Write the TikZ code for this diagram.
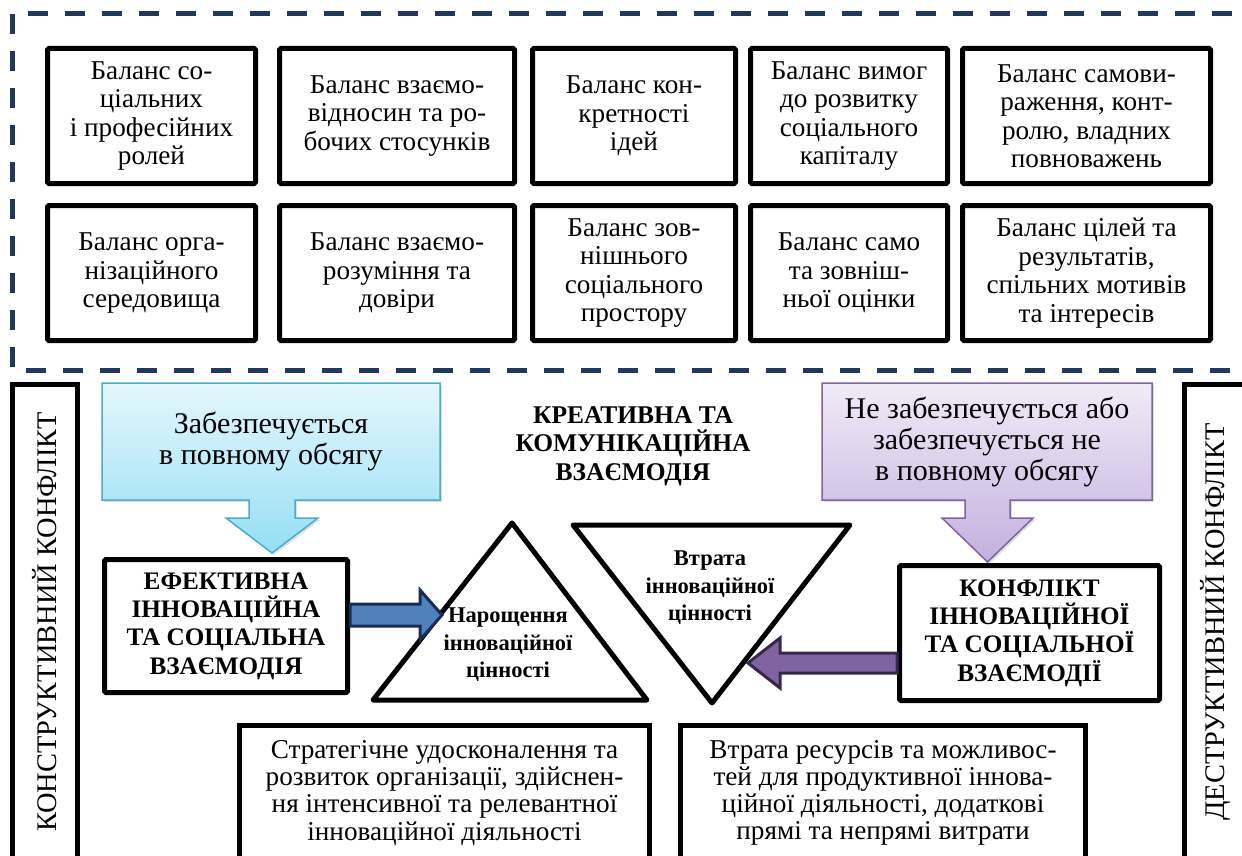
\documentclass[tikz,border=0pt]{standalone}
\usepackage{fontspec}
\setmainfont{Liberation Serif}
\usetikzlibrary{arrows.meta,calc,positioning,shadows,backgrounds}
\definecolor{FrameNavy}{RGB}{32,56,90}
\definecolor{SkyTop}{RGB}{228,247,253}
\definecolor{SkyBottom}{RGB}{150,222,243}
\definecolor{SkyEdge}{RGB}{75,172,198}
\definecolor{LilacTop}{RGB}{241,235,247}
\definecolor{LilacBottom}{RGB}{195,176,222}
\definecolor{LilacEdge}{RGB}{128,100,162}
\definecolor{SteelFill}{RGB}{79,129,189}
\definecolor{SteelEdge}{RGB}{23,45,84}
\definecolor{PlumFill}{RGB}{128,100,162}
\definecolor{PlumEdge}{RGB}{54,40,74}

\begin{document}
\begin{tikzpicture}[x=1pt,y=-1pt,
  balbox/.style={draw,line width=5pt,rounded corners=1.5pt,align=center,inner sep=0pt,minimum height=135pt,font=\fontsize{27.2}{28.5}\selectfont},
  resbox/.style={draw,line width=5pt,rounded corners=1.5pt,align=center,inner sep=0pt,font=\fontsize{25.2}{28.3}\selectfont\bfseries},
  outbox/.style={draw,line width=5pt,align=center,inner sep=0pt,minimum height=135pt,font=\fontsize{27.2}{27.2}\selectfont},
  sidebox/.style={draw,line width=5pt,rotate=90,inner sep=0pt,minimum width=475pt,font=\fontsize{28.4}{30}\selectfont},
  calltext/.style={align=center,inner sep=0pt,outer sep=0pt,font=\fontsize{30}{31}\selectfont},
  tritext/.style={align=center,inner sep=0pt,font=\fontsize{22.5}{27.5}\selectfont\bfseries},
  tri/.style={draw,line width=5pt,line join=round},
  skycall/.style={draw=SkyEdge,line width=1.5pt,top color=SkyTop,bottom color=SkyBottom,drop shadow={opacity=0.25,shadow xshift=2pt,shadow yshift=-2pt}},
  lilaccall/.style={draw=LilacEdge,line width=1.5pt,top color=LilacTop,bottom color=LilacBottom,drop shadow={opacity=0.25,shadow xshift=2pt,shadow yshift=-2pt}},
  steelfat/.style={fill=SteelFill,draw=SteelEdge,line width=3pt},
  plumfat/.style={fill=PlumFill,draw=PlumEdge,line width=3pt}]
\useasboundingbox (0,0) rectangle (1242,856);
\clip (0,0) rectangle (1242,856);

% balances
\draw[FrameNavy,line width=5pt,dash pattern=on 20pt off 17pt] (12,14) rectangle (1265,370);
\node[balbox,minimum width=208pt] (b1) at (151.5,116) {Баланс со-\\ціальних\\і професійних\\ролей};
\node[balbox,minimum width=235pt,right=19pt of b1] (b2) {Баланс взаємо-\\відносин та ро-\\бочих стосунків};
\node[balbox,minimum width=203pt,right=13pt of b2] (b3) {Баланс кон-\\кретності\\ідей};
\node[balbox,minimum width=197pt,right=10pt of b3] (b4) {Баланс вимог\\до розвитку\\соціального\\капіталу};
\node[balbox,minimum width=248pt,right=10pt of b4] (b5) {Баланс самови-\\раження, конт-\\ролю, владних\\повноважень};
\node[balbox,minimum width=208pt,below=17pt of b1] (c1) {Баланс орга-\\нізаційного\\середовища};
\node[balbox,minimum width=235pt,below=17pt of b2] (c2) {Баланс взаємо-\\розуміння та\\довіри};
\node[balbox,minimum width=203pt,below=17pt of b3] (c3) {Баланс зов-\\нішнього\\соціального\\простору};
\node[balbox,minimum width=197pt,below=17pt of b4] (c4) {Баланс само\\та зовніш-\\ньої оцінки};
\node[balbox,minimum width=248pt,below=17pt of b5] (c5) {Баланс цілей та\\результатів,\\спільних мотивів\\та інтересів};

% sides
\node[sidebox,minimum height=65pt] (constr) at (45,622) {КОНСТРУКТИВНИЙ КОНФЛІКТ};
\node[sidebox,minimum height=61.5pt] (destr) at (1215.25,622) {ДЕСТРУКТИВНИЙ КОНФЛІКТ};

% callouts
\node[calltext,minimum width=338pt,minimum height=117pt] (full) at (271,441.5) {Забезпечується\\в повному обсягу};
\node[calltext,minimum width=330pt,minimum height=117pt] (part) at (987,441.5) {Не забезпечується або\\забезпечується не\\в повному обсягу};
\begin{scope}[on background layer]
\draw[skycall] (full.north west) -- (full.north east) -- (full.south east) -- ++(-145,0) -- ++(0,18) -- ++(23,0) -- ++(-46,35) -- ++(-46,-35) -- ++(23,0) -- ++(0,-18) -- (full.south west) -- cycle;
\draw[lilaccall] (part.north west) -- (part.north east) -- (part.south east) -- ++(-142,0) -- ++(0,18) -- ++(23,0) -- ++(-45.5,44) -- ++(-45.5,-44) -- ++(23,0) -- ++(0,-18) -- (part.south west) -- cycle;
\end{scope}
\node[align=center,inner sep=0pt,font=\fontsize{25.5}{28.5}\selectfont\bfseries] (title) at (633,446) {КРЕАТИВНА ТА\\КОМУНІКАЦІЙНА\\ВЗАЄМОДІЯ};

% interaction
\node[resbox,minimum width=243pt,minimum height=133pt] (eff) at (226,626) {ЕФЕКТИВНА\\ІННОВАЦІЙНА\\ТА СОЦІАЛЬНА\\ВЗАЄМОДІЯ};
\node[resbox,minimum width=260pt,minimum height=135pt] (conf) at (1029.5,633) {КОНФЛІКТ\\ІННОВАЦІЙНОЇ\\ТА СОЦІАЛЬНОЇ\\ВЗАЄМОДІЇ};

\coordinate (gl) at (373,700); \coordinate (gt) at (512,523); \coordinate (gr) at (647,700);
\draw[tri] (gl) -- (gt) -- (gr) -- cycle;
\node[tritext] (grow) at (508,645) {Нарощення\\інноваційної\\цінності};
\coordinate (ll) at (573,525); \coordinate (lr) at (850,525); \coordinate (lb) at (712,703);
\draw[tri] (ll) -- (lr) -- (lb) -- cycle;
\node[tritext] (loss) at (710,588) {Втрата\\інноваційної\\цінності};

\draw[steelfat] (eff.east) -- ++(70,0) -- ++(0,14) -- ++(22,-25) -- ++(-22,-25) -- ++(0,14) -- ++(-70,0) -- cycle;
\draw[plumfat] ($(conf.west)+(0,20)$) -- ++(-117,0) -- ++(0,-15) -- ++(-32,25) -- ++(32,25) -- ++(0,-15) -- ++(117,0) -- cycle;

% outcomes
\node[outbox,minimum width=410pt] (strat) at (444.5,793) {Стратегічне удосконалення та\\розвиток організації, здійснен-\\ня інтенсивної та релевантної\\інноваційної діяльності};
\node[outbox,minimum width=405pt] (waste) at (883,793) {Втрата ресурсів та можливос-\\тей для продуктивної іннова-\\ційної діяльності, додаткові\\прямі та непрямі витрати};
\end{tikzpicture}
\end{document}
